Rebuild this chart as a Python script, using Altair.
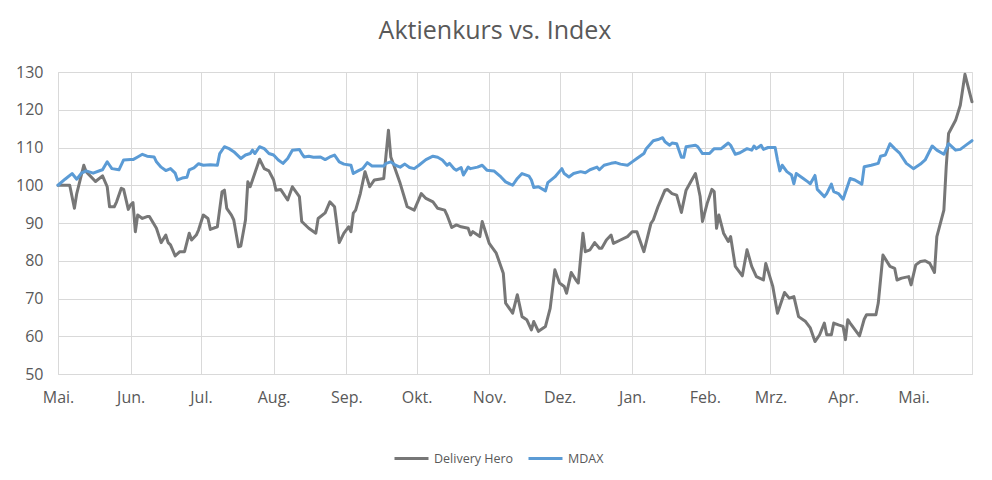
import altair as alt
import pandas as pd

# ---------------- data ----------------
START = "2018-05-01"          # first trading day shown (day offset 0)
END_OFFSET = 390              # last day shown

MONTH_LABELS = ["Jan.", "Feb.", "Mrz.", "Apr.", "Mai.", "Jun.",
                "Jul.", "Aug.", "Sep.", "Okt.", "Nov.", "Dez."]

SERIES_NAMES = ["Delivery Hero", "MDAX"]

DH_DAYS = [0, 5, 7, 8, 11, 12, 16, 19, 21, 22, 24, 25, 27, 28, 30, 31, 32, 33, 34, 36,
           38, 39, 42, 44, 46, 47, 48, 50, 52, 54, 56, 57, 59, 60, 62, 64, 65, 68, 70, 71,
           72, 74, 75, 77, 78, 80, 81, 82, 83, 86, 88, 90, 92, 93, 95, 98, 100, 103, 104, 107,
           110, 111, 114, 116, 118, 120, 122, 124, 125, 126, 127, 129, 131, 133, 135, 139, 141, 142, 143, 146,
           149, 152, 155, 157, 160, 162, 165, 166, 168, 170, 172, 175, 176, 177, 180, 181, 184, 187, 190, 191,
           194, 196, 198, 200, 202, 203, 205, 208, 210, 212, 214, 216, 217, 219, 221, 222, 224, 225, 227, 229,
           231, 232, 234, 236, 237, 240, 243, 245, 247, 250, 253, 254, 256, 259, 260, 262, 264, 266, 268, 270,
           272, 274, 275, 277, 279, 280, 281, 282, 284, 286, 287, 289, 292, 294, 296, 298, 301, 302, 305, 307,
           310, 312, 314, 316, 319, 321, 323, 325, 327, 328, 330, 331, 333, 335, 336, 337, 338, 342, 344, 345,
           349, 350, 352, 355, 357, 358, 360, 363, 364, 366, 368, 370, 372, 374, 375, 378, 379, 380, 383, 385,
           387, 390]
DH_VALUES = [100, 100, 93.9, 97.8, 105.3, 103.6, 101, 102.5, 99.6, 94.3, 94.3, 95.6, 99.2, 98.9, 93.6, 94.8, 95.4, 87.7, 92.1, 91.2,
             91.7, 91.7, 88.6, 84.8, 86.8, 84.8, 84.2, 81.3, 82.4, 82.4, 87.3, 85.5, 86.8, 88.2, 92.1, 91.2, 88.3, 89.0, 98.3, 98.7,
             93.9, 92.1, 90.8, 83.7, 83.9, 90.8, 100.9, 99.6, 101.4, 106.9, 104.4, 103.8, 101.4, 98.7, 98.9, 96.1, 99.6, 97.0, 90.4, 88.6,
             87.3, 91.2, 92.7, 95.6, 94.3, 84.8, 87.3, 89.0, 87.7, 92.6, 93.4, 97.8, 103.6, 99.6, 101.4, 101.8, 114.6, 107.5, 105.8, 100.5,
             94.3, 93.4, 97.8, 96.5, 95.6, 93.9, 93.4, 92.1, 88.8, 89.5, 89.0, 88.6, 86.8, 87.7, 86.4, 90.4, 84.6, 82.0, 76.7, 68.8,
             66.1, 71.0, 65.2, 64.4, 61.7, 63.9, 61.3, 62.6, 67.4, 77.6, 74.1, 73.2, 71.4, 76.9, 74.9, 74.1, 87.3, 82.4, 82.9, 84.8,
             83.3, 83.3, 85.5, 86.8, 84.6, 85.5, 86.4, 87.7, 87.7, 82.4, 89.9, 90.8, 94.3, 98.7, 98.9, 97.8, 97.4, 92.8, 98.7, 100.9,
             103.1, 97.0, 90.4, 95.2, 98.9, 98.3, 88.6, 92.1, 87.3, 85.1, 86.4, 78.5, 76.0, 82.9, 78.5, 75.8, 74.9, 79.3, 73.2, 66.1,
             71.6, 70.1, 70.5, 65.2, 63.9, 62.2, 58.6, 60.4, 63.5, 60.4, 60.4, 63.5, 63.0, 62.6, 59.1, 64.4, 63.5, 60.1, 64.5, 65.7,
             65.7, 68.8, 81.5, 78.5, 78.0, 74.9, 75.4, 75.8, 73.6, 78.9, 79.8, 80.0, 79.3, 76.9, 86.4, 93.4, 104.9, 113.7, 117.2, 121.2,
             129.4, 122.1]

MDAX_DAYS = [0, 3, 6, 8, 10, 12, 15, 18, 19, 21, 22, 23, 26, 28, 31, 32, 34, 36, 38, 41,
             42, 44, 46, 48, 50, 51, 53, 55, 56, 58, 60, 62, 65, 68, 69, 71, 73, 75, 78, 80,
             82, 83, 84, 86, 88, 90, 92, 94, 96, 98, 100, 103, 104, 105, 107, 109, 112, 114, 116, 118,
             120, 122, 125, 126, 128, 130, 132, 134, 137, 139, 140, 142, 144, 146, 148, 150, 152, 154, 157, 160,
             162, 164, 166, 167, 169, 170, 172, 173, 175, 176, 179, 181, 183, 186, 189, 191, 194, 196, 198, 201,
             202, 203, 205, 208, 209, 212, 215, 216, 218, 220, 223, 225, 227, 230, 231, 233, 236, 238, 240, 243,
             245, 247, 250, 251, 254, 256, 258, 259, 261, 262, 264, 266, 267, 268, 270, 272, 273, 275, 278, 280,
             283, 284, 286, 287, 289, 291, 294, 296, 297, 298, 300, 301, 303, 306, 307, 308, 309, 311, 313, 314,
             315, 318, 320, 321, 323, 324, 327, 328, 330, 331, 333, 335, 338, 340, 343, 344, 347, 350, 351, 353,
             355, 357, 359, 362, 365, 368, 370, 373, 375, 378, 380, 383, 385, 388, 390]
MDAX_VALUES = [100, 101.6, 103.1, 101.6, 103.2, 103.8, 103.2, 103.9, 104.1, 106.2, 105.3, 104.4, 104.1, 106.7, 106.8, 106.8, 107.5, 108.2, 107.7, 107.5,
               106.2, 104.8, 103.9, 104.4, 103.2, 101.4, 101.9, 102.1, 104.1, 104.6, 105.7, 105.3, 105.4, 105.3, 108.4, 110.2, 109.7, 108.9, 107.1, 108.0,
               108.4, 109.3, 108.4, 110.2, 109.7, 108.4, 108.0, 106.7, 105.8, 107.1, 109.3, 109.5, 108.4, 107.5, 107.7, 107.4, 107.5, 106.8, 107.5, 108.0,
               106.2, 105.6, 105.3, 103.1, 103.8, 104.4, 106.0, 105.1, 105.1, 105.1, 105.8, 106.2, 105.3, 104.8, 105.6, 104.7, 104.4, 105.3, 106.8, 107.7,
               107.4, 106.7, 105.3, 105.8, 104.4, 104.0, 104.7, 102.7, 104.8, 104.4, 104.8, 105.3, 104.0, 103.8, 102.2, 100.9, 100.0, 101.8, 103.1, 102.4,
               101.4, 99.4, 99.6, 98.5, 100.7, 102.2, 104.4, 103.1, 102.2, 103.1, 103.6, 103.3, 104.1, 104.8, 104.1, 105.3, 105.8, 106.0, 105.6, 105.3,
               106.2, 107.1, 108.4, 109.7, 111.8, 112.1, 112.6, 111.5, 110.6, 111.2, 111.0, 107.4, 107.4, 110.2, 110.4, 110.6, 110.2, 108.4, 108.4, 109.7,
               109.7, 110.2, 111.2, 110.6, 108.2, 108.6, 109.7, 109.3, 110.4, 109.7, 110.6, 109.5, 110.0, 110.0, 106.7, 103.8, 105.3, 103.6, 102.7, 100.4,
               103.1, 101.8, 100.9, 100.4, 102.6, 98.9, 97.0, 97.8, 100.3, 98.3, 97.8, 96.3, 101.8, 101.4, 100.3, 104.9, 105.3, 105.8, 107.7, 108.0,
               111.0, 109.7, 108.6, 105.8, 104.4, 105.6, 106.7, 110.4, 109.3, 108.2, 111.0, 109.3, 109.5, 110.9, 111.8]

Y_TICKS = [50, 60, 70, 80, 90, 100, 110, 120, 130]

# ---------------- build table ----------------
start = pd.Timestamp(START)
frames = []
for name, days, vals in [(SERIES_NAMES[0], DH_DAYS, DH_VALUES),
                         (SERIES_NAMES[1], MDAX_DAYS, MDAX_VALUES)]:
    frames.append(pd.DataFrame({
        "date": start + pd.to_timedelta(days, unit="D"),
        "value": vals,
        "series": name,
    }))
df = pd.concat(frames, ignore_index=True)


def dt(ts):
    return alt.DateTime(year=ts.year, month=ts.month, date=ts.day)


end = start + pd.Timedelta(days=END_OFFSET)
month_starts = pd.date_range(start, end, freq="MS")
x_values = [dt(t) for t in month_starts]

label_array = "[" + ",".join("'%s'" % m for m in MONTH_LABELS) + "]"
label_expr = label_array + "[month(datum.value)]"

TEXT = "#595959"
GRID = "#d9d9d9"

chart = alt.Chart(df).mark_line(strokeWidth=3, strokeJoin="round", strokeCap="round").encode(
    x=alt.X("date:T",
            scale=alt.Scale(domain=[dt(start), dt(end)]),
            axis=alt.Axis(values=x_values, labelExpr=label_expr, title=None,
                          grid=True, gridColor=GRID, domainColor=GRID, ticks=False,
                          labelColor=TEXT, labelFontSize=16, labelPadding=15,
                          labelFont="Open Sans", labelAlign="center", labelFlush=False)),
    y=alt.Y("value:Q",
            scale=alt.Scale(domain=[50, 130], nice=False, zero=False),
            axis=alt.Axis(values=Y_TICKS, title=None, grid=True, gridColor=GRID,
                          domain=False, ticks=False, labelColor=TEXT, labelFontSize=16,
                          labelPadding=15, labelFont="Open Sans")),
    color=alt.Color("series:N",
                    scale=alt.Scale(domain=SERIES_NAMES, range=["#777777", "#5b9bd5"]),
                    legend=alt.Legend(title=None, orient="none", legendX=335, legendY=368,
                                      direction="horizontal", symbolType="stroke",
                                      symbolSize=1156, symbolStrokeWidth=3,
                                      labelFontSize=12.5, labelColor=TEXT, labelFont="Open Sans",
                                      columnPadding=8, labelOffset=4, padding=0)),
).properties(
    width=914,
    height=302,
    autosize=alt.AutoSizeParams(type="none"),
    padding={"left": 50, "top": 64, "right": 12, "bottom": 98},
    title=alt.TitleParams("Aktienkurs vs. Index", fontSize=25, fontWeight="normal",
                          color=TEXT, font="Open Sans", anchor="middle", dx=-20, offset=20),
).configure_view(stroke=None).configure(background="white")

chart.save("out.html", embed_options={"renderer": "svg", "actions": False})
